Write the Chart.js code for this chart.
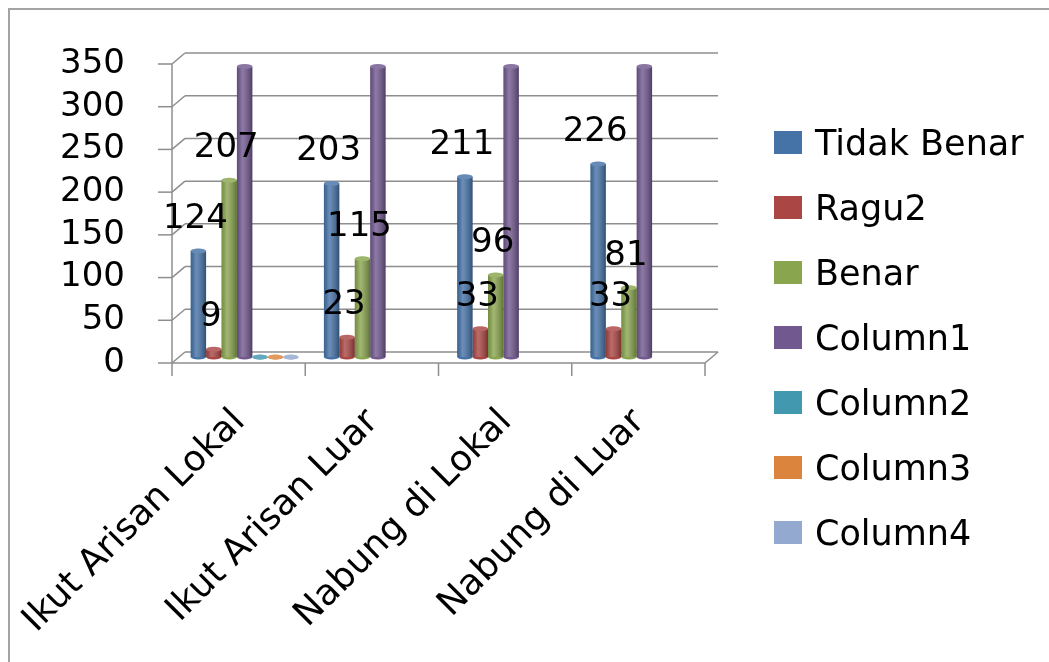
<!DOCTYPE html>
<html lang="id">
<head>
<meta charset="utf-8" />
<title>Grafik Arisan dan Nabung</title>
<script src="https://cdn.jsdelivr.net/npm/chart.js"></script>
<style>
  html, body { margin: 0; padding: 0; background: #fff; }
  .frame {
    position: absolute; left: 8px; top: 8px; width: 1041px; height: 654px;
    border-left: 2px solid #a3a3a3; border-top: 2px solid #a3a3a3;
  }
  .chart-box { position: absolute; left: 0; top: 0; width: 1049px; height: 662px; }
  .legend {
    position: absolute; left: 774px; top: 110px; margin: 0; padding: 0; list-style: none;
    font-family: "DejaVu Sans", sans-serif; font-size: 35px; color: #000;
  }
  .legend li { display: flex; align-items: center; height: 65px; white-space: nowrap; }
  .legend .box { width: 28px; height: 23px; margin-right: 13px; }
</style>
</head>
<body>
<div class="frame"></div>
<div class="chart-box"><canvas id="chart"></canvas></div>
<ul class="legend" id="legend"></ul>
<script>
const categories = ['Ikut Arisan Lokal', 'Ikut Arisan Luar', 'Nabung di Lokal', 'Nabung di Luar'];
const tidakBenar = [124, 203, 211, 226];
const ragu2 = [9, 23, 33, 33];
const benar = [207, 115, 96, 81];
const column1 = [340, 340, 340, 340];
const column2 = [0, null, null, null];
const column3 = [0, null, null, null];
const column4 = [0, null, null, null];
const yTicks = [0, 50, 100, 150, 200, 250, 300, 350];

const seriesNames = ['Tidak Benar', 'Ragu2', 'Benar', 'Column1', 'Column2', 'Column3', 'Column4'];
const seriesData = [tidakBenar, ragu2, benar, column1, column2, column3, column4];
const seriesColors = ['#4572A7', '#AA4643', '#89A54E', '#71588F', '#4198AF', '#DB843D', '#93A9CF'];
const labelledSeries = [0, 1, 2];

const FONT = '"DejaVu Sans", sans-serif';
const FS = 34;
// 3D look: front plane and back wall offsets from the plot area
const FRONT = { dx: -6, dy: 6 };
const BACK = { dx: 7, dy: -5 };

const wallsPlugin = {
  id: 'walls',
  beforeDatasetsDraw(chart) {
    const { ctx, chartArea: a, scales: { x, y } } = chart;
    const line = (x1, y1, x2, y2) => { ctx.beginPath(); ctx.moveTo(x1, y1); ctx.lineTo(x2, y2); ctx.stroke(); };
    ctx.save();
    ctx.strokeStyle = '#8e8e8e';
    ctx.lineWidth = 1.5;
    y.ticks.forEach(t => {
      const py = y.getPixelForValue(t.value);
      line(a.left + BACK.dx, py + BACK.dy, a.right + BACK.dx, py + BACK.dy);
      line(a.left + FRONT.dx, py + FRONT.dy, a.left + BACK.dx, py + BACK.dy);
      line(a.left + FRONT.dx - 14, py + FRONT.dy, a.left + FRONT.dx, py + FRONT.dy);
    });
    line(a.left + FRONT.dx, a.top + FRONT.dy, a.left + FRONT.dx, a.bottom + FRONT.dy);
    line(a.left + FRONT.dx, a.bottom + FRONT.dy, a.right + FRONT.dx, a.bottom + FRONT.dy);
    line(a.right + FRONT.dx, a.bottom + FRONT.dy, a.right + BACK.dx, a.bottom + BACK.dy);
    const step = (a.right - a.left) / categories.length;
    for (let i = 0; i <= categories.length; i++) {
      const px = (i < categories.length ? x.getPixelForValue(i) - step / 2 : a.right) + FRONT.dx;
      line(px, a.bottom + FRONT.dy, px, a.bottom + FRONT.dy + 13);
    }
    ctx.restore();
  }
};

const cylinderPlugin = {
  id: 'cylinders',
  afterDatasetsDraw(chart) {
    const ctx = chart.ctx;
    chart.data.datasets.forEach((ds, di) => {
      const meta = chart.getDatasetMeta(di);
      meta.data.forEach((bar, i) => {
        if (ds.data[i] === null) return;
        const { x, y, base, width } = bar.getProps(['x', 'y', 'base', 'width'], true);
        const l = x - width / 2;
        const g = ctx.createLinearGradient(l, 0, l + width, 0);
        g.addColorStop(0, 'rgba(0,0,0,0.15)');
        g.addColorStop(0.35, 'rgba(255,255,255,0.2)');
        g.addColorStop(1, 'rgba(0,0,0,0.3)');
        ctx.save();
        ctx.fillStyle = ds.backgroundColor;
        ctx.beginPath();
        ctx.ellipse(x, base, width / 2, 2.5, 0, 0, Math.PI);
        ctx.fill();
        ctx.fillStyle = g;
        ctx.fillRect(l, y, width, base - y);
        ctx.fillStyle = ds.backgroundColor;
        ctx.beginPath();
        ctx.ellipse(x, y, width / 2, 2.5, 0, 0, Math.PI * 2);
        ctx.fill();
        ctx.fillStyle = 'rgba(255,255,255,0.18)';
        ctx.fill();
        ctx.restore();
      });
    });
  }
};

const valueLabelsPlugin = {
  id: 'valueLabels',
  afterDatasetsDraw(chart) {
    const ctx = chart.ctx;
    ctx.save();
    ctx.font = FS + 'px ' + FONT;
    ctx.fillStyle = '#000';
    ctx.textAlign = 'center';
    ctx.textBaseline = 'middle';
    labelledSeries.forEach(di => {
      chart.getDatasetMeta(di).data.forEach((bar, i) => {
        ctx.fillText(String(seriesData[di][i]), bar.x - 3, bar.y - 32);
      });
    });
    ctx.restore();
  }
};

Chart.defaults.color = '#000';
Chart.defaults.font.family = FONT;
Chart.defaults.font.size = FS;

const chart = new Chart(document.getElementById('chart'), {
  type: 'bar',
  data: {
    labels: categories,
    datasets: seriesNames.map((name, k) => ({
      label: name,
      data: seriesData[k],
      backgroundColor: seriesColors[k],
      borderWidth: 0,
      categoryPercentage: 0.81,
      barPercentage: 1
    }))
  },
  options: {
    responsive: true,
    maintainAspectRatio: false,
    animation: false,
    layout: { padding: { top: 58, bottom: 0, left: 0, right: 1049 - 711 } },
    plugins: {
      legend: { display: false },
      tooltip: { enabled: false }
    },
    scales: {
      x: {
        grid: { display: false, drawTicks: false },
        border: { display: false },
        ticks: { font: { size: 36 }, minRotation: 45, maxRotation: 45, autoSkip: false, padding: 44, labelOffset: -5 },
        afterFit: s => { s.height = 662 - 357; s.paddingLeft = 0; s.paddingRight = 0; }
      },
      y: {
        min: 0, max: 350,
        grid: { display: false, drawTicks: false },
        border: { display: false },
        ticks: { padding: 53, labelOffset: 6, autoSkip: false },
        afterBuildTicks: s => { s.ticks = yTicks.map(v => ({ value: v })); },
        afterFit: s => { s.width = 178; s.paddingTop = 0; s.paddingBottom = 0; }
      }
    }
  },
  plugins: [wallsPlugin, cylinderPlugin, valueLabelsPlugin]
});

// legend built from the chart's datasets
const legendEl = document.getElementById('legend');
chart.data.datasets.forEach(ds => {
  const li = document.createElement('li');
  const box = document.createElement('span');
  box.className = 'box';
  box.style.background = ds.backgroundColor;
  li.appendChild(box);
  li.appendChild(document.createTextNode(ds.label));
  legendEl.appendChild(li);
});
</script>
</body>
</html>
